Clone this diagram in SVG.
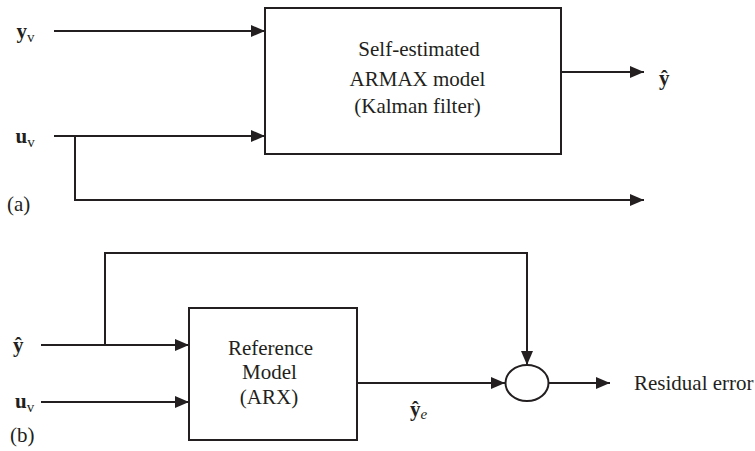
<svg xmlns="http://www.w3.org/2000/svg" width="755" height="451" viewBox="0 0 755 451">
<style>
.ln{fill:none;stroke:#231f20;stroke-width:2}
.bx{fill:#fff;stroke:#231f20;stroke-width:2}
text{font-family:'Liberation Serif','DejaVu Serif',serif;font-size:21px;fill:#231f20}
.b{font-weight:bold}
.s{font-size:15px;font-weight:normal}
</style>
<defs>
<marker id="ah" markerWidth="14" markerHeight="12" refX="14" refY="6" orient="auto" markerUnits="userSpaceOnUse">
<path d="M0,0 L14,6 L0,12 Z" fill="#231f20"/>
</marker>
</defs>
<g id="connectors">
<line class="ln" x1="54" y1="31" x2="265" y2="31" marker-end="url(#ah)"/>
<line class="ln" x1="54" y1="136" x2="265" y2="136" marker-end="url(#ah)"/>
<polyline class="ln" points="75,136 75,200 644,200" marker-end="url(#ah)"/>
<line class="ln" x1="561" y1="72" x2="644" y2="72" marker-end="url(#ah)"/>
<line class="ln" x1="41" y1="345" x2="189" y2="345" marker-end="url(#ah)"/>
<line class="ln" x1="41" y1="402" x2="189" y2="402" marker-end="url(#ah)"/>
<polyline class="ln" points="105,345 105,253 527,253 527,365" marker-end="url(#ah)"/>
<line class="ln" x1="357" y1="383" x2="505" y2="383" marker-end="url(#ah)"/>
<line class="ln" x1="549" y1="383" x2="610" y2="383" marker-end="url(#ah)"/>
</g>
<g id="armax">
<rect class="bx" x="265" y="8" width="296" height="146"/>
<text text-anchor="middle" x="419" y="56">Self-estimated</text>
<text text-anchor="middle" x="417.5" y="86">ARMAX model</text>
<text text-anchor="middle" x="417.5" y="113">(Kalman filter)</text>
</g>
<g id="arx">
<rect class="bx" x="189" y="308" width="168" height="132"/>
<text text-anchor="middle" x="270.5" y="355">Reference</text>
<text text-anchor="middle" x="269.5" y="379">Model</text>
<text text-anchor="middle" x="269" y="404">(ARX)</text>
</g>
<g id="sum">
<ellipse class="bx" cx="527" cy="383" rx="21.5" ry="18"/>
</g>
<g id="labels">
<text class="b" x="16.5" y="38">y<tspan class="s" dy="4">v</tspan></text>
<text class="b" x="15.5" y="143">u<tspan class="s" dy="4">v</tspan></text>
<text class="b" x="659" y="85">ŷ</text>
<text x="7" y="211">(a)</text>
<text class="b" x="13" y="352">ŷ</text>
<text class="b" x="15" y="408">u<tspan class="s" dy="4">v</tspan></text>
<text x="10" y="442">(b)</text>
<text class="b" x="410" y="416">ŷ<tspan class="s" font-style="italic" dy="3">e</tspan></text>
<text x="634" y="390">Residual error</text>
</g>
</svg>
